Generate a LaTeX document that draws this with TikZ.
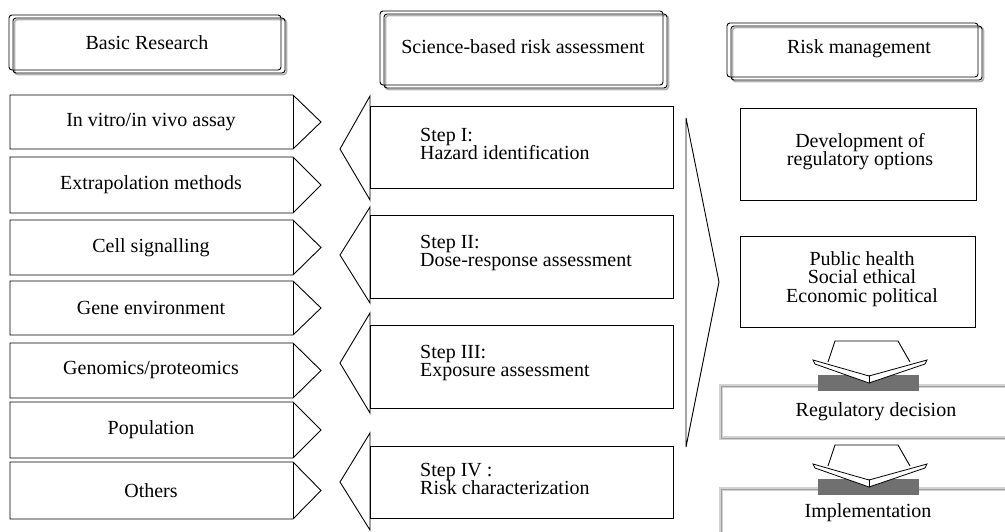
\documentclass[tikz,border=0pt]{standalone}
\usepackage{fontspec}
\setmainfont{Liberation Serif}
\newcommand{\hdrframe}[4]{%
  \draw[gray!60, line width=1.6pt, rounded corners=3pt] (#1+5.5,#2+4.5) rectangle (#3+1.5,#4+1.5);
  \draw[line width=0.9pt, rounded corners=3pt] (#1+4,#2+3) rectangle (#3,#4);
  \draw[line width=0.9pt, rounded corners=3pt] (#1,#2) rectangle (#3-4,#4-3);
}
\newcommand{\leftrow}[4]{% name, top, bottom, text
  \draw[shp] (10,#2) -- (293,#2) -- (321,{(#2+#3)/2}) -- (293,#3) -- (10,#3) -- cycle;
  \draw[shp] (293,#2) -- (293,#3);
  \node[txt] (#1) at (151,{(#2+#3)/2}) {#4};
}
\newcommand{\steparrow}[7]{% name, rtop, rbot, ttop, tbot, tip y, text
  \draw[shp] (370,#2) rectangle (673,#3);
  \draw[shp] (370,#4) -- (340,#6) -- (370,#5) -- cycle;
  \node[txt, anchor=west, align=left] (#1) at (420,{(#2+#3)/2-3}) {#7};
}
\newcommand{\dnarrow}[1]{% y offset of top
  \begin{scope}[yshift=-#1pt]
    \fill[bargray] (818,34) rectangle (919,50);
    \draw[shp] (828,21) -- (835,0) -- (898,0) -- (910,21);
    \draw[shp, line width=0.8pt, fill=white] (813,19) -- (869,35) -- (927,19) -- (925,23) -- (869,42) -- (815,23) -- cycle;
    \draw[shp, line width=0.8pt] (869,35) -- (869,42);
  \end{scope}
}
\tikzset{
  shp/.style={line width=0.9pt, line join=miter},
  txt/.style={font={\fontsize{20}{18}\selectfont\lineskiplimit=-30pt}, inner sep=0pt},
}
\definecolor{bargray}{RGB}{112,112,112}
\begin{document}
\begin{tikzpicture}[x=1pt,y=-1pt]
\useasboundingbox (0,0) rectangle (1005,531);
\clip (0,0) rectangle (1005,531);

% headers
\hdrframe{9}{15}{285}{73}
\node[txt] (hbasic) at (147,43) {Basic Research};
\hdrframe{380}{11}{667}{88}
\node[txt] (hsci) at (523,47) {Science-based risk assessment};
\hdrframe{727}{23}{982}{80}
\node[txt] (hrisk) at (859,49) {Risk management};

% left column
\leftrow{vitro}{95}{149}{In vitro/in vivo assay}
\leftrow{extra}{157}{213}{Extrapolation methods}
\leftrow{cell}{220}{275}{Cell signalling}
\leftrow{gene}{281}{335}{Gene environment}
\leftrow{genom}{343}{398}{Genomics/proteomics}
\leftrow{popul}{402}{458}{Population}
\leftrow{others}{462}{519}{Others}

% middle column
\steparrow{s1}{106}{188}{96}{200}{149}{Step I:\\Hazard identification}
\steparrow{s2}{215}{298}{207}{303}{255}{Step II:\\Dose-response assessment}
\steparrow{s3}{325}{408}{313}{413}{363}{Step III:\\Exposure assessment}
\steparrow{s4}{446}{518}{433}{530}{482}{Step IV :\\Risk characterization}

% big chevron
\draw[shp] (686,118) -- (719,282) -- (686,447) -- cycle;

% right column
\draw[shp] (740,108) rectangle (976,200);
\node[txt, align=center] (dev) at (860,152) {Development of\\regulatory options};
\draw[shp] (740,236) rectangle (975,327);
\node[txt, align=center, font={\fontsize{20}{18.5}\selectfont\lineskiplimit=-30pt}] (pub) at (862,279) {Public health\\Social ethical\\Economic political};

% regulatory decision box (soft border)
\draw[gray!35, line width=3.5pt] (1010,386) -- (721,386) -- (721,438) -- (1010,438);
\draw[gray!75, line width=1pt] (1010,386) -- (721,386) -- (721,438) -- (1010,438);
\node[txt] (reg) at (876,412) {Regulatory decision};
\draw[gray!35, line width=3.5pt] (1010,489) -- (721,489) -- (721,540);
\draw[gray!75, line width=1pt] (1010,489) -- (721,489) -- (721,540);
\node[txt] (impl) at (868,513) {Implementation};

\dnarrow{341}
\dnarrow{445}
\end{tikzpicture}
\end{document}
